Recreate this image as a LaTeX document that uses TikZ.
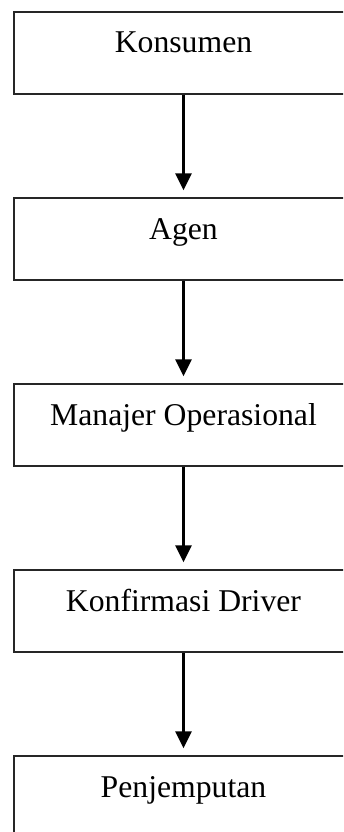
\documentclass[tikz,border=0pt]{standalone}
\usepackage{fontspec}
\setmainfont{Liberation Serif}
\usetikzlibrary{arrows.meta}

\begin{document}
\begin{tikzpicture}[x=1pt,y=-1pt,shorten >=7pt]
        \tikzstyle{stage}=[rectangle,draw=black!85,line width=1.5pt,minimum width=339pt,minimum height=82pt,
                           text height=20pt,text depth=20pt,inner sep=0pt,font=\fontsize{31.7}{38}\selectfont]
        \tikzstyle{edge}=[draw,line width=3pt,-{Triangle[width=16pt,length=17pt]}]
        \clip (0,0) rectangle (343,832);
       \begin{scope}
         \node [stage] (konsumen) at (183.5,53) {Konsumen};
         \node [stage] (agen) at (183.5,239) {Agen};
         \node [stage] (manajer) at (183.5,425) {Manajer Operasional};
         \node [stage] (driver) at (183.5,611) {Konfirmasi Driver};
         \node [stage] (jemput) at (183.5,797) {Penjemputan};
         \path[edge] (konsumen) edge (agen);
         \path[edge] (agen) edge (manajer);
         \path[edge] (manajer) edge (driver);
         \path[edge] (driver) edge (jemput);
        \end{scope}
      \end{tikzpicture}
\end{document}
